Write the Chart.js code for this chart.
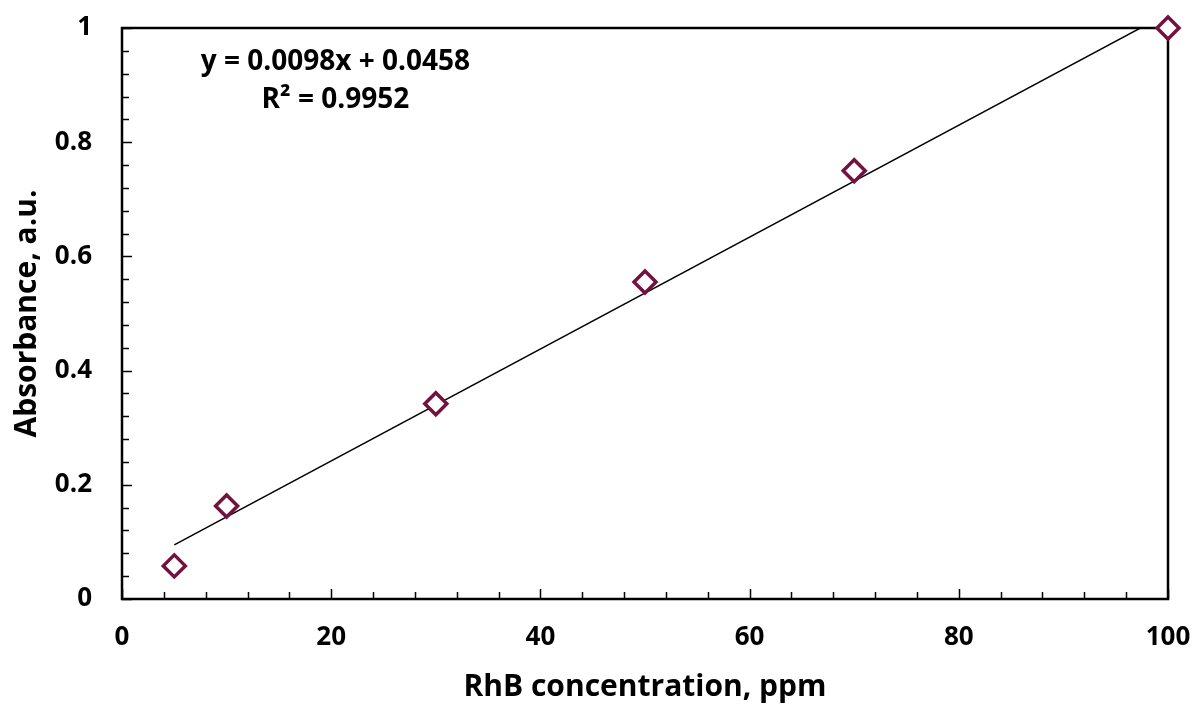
<!DOCTYPE html>
<html>
<head>
<meta charset="utf-8">
<script src="https://cdn.jsdelivr.net/npm/chart.js@4"></script>
<style>
  html, body { margin: 0; padding: 0; background: #fff; }
  #wrap { width: 1197px; height: 705px; }
</style>
</head>
<body>
<div id="wrap"><canvas id="myChart" width="1197" height="705"></canvas></div>
<script>
// measured points
const concentration = [5, 10, 30, 50, 70, 100];
const absorbance = [0.058, 0.163, 0.342, 0.555, 0.750, 1.0];

// linear trendline (ends)
const trendX = [5, 100];
const trendY = [0.0948, 1.0258];

const equationText = "y = 0.0098x + 0.0458";
const r2Text = "R² = 0.9952";

const FONT = "'Open Sans', 'Liberation Sans', sans-serif";

// frame + inside ticks + equation label, drawn under the markers
const framePlugin = {
  id: "frame",
  beforeDatasetsDraw(chart) {
    const ctx = chart.ctx;
    const a = chart.chartArea;
    const xs = chart.scales.x;
    const ys = chart.scales.y;
    ctx.save();
    ctx.strokeStyle = "#000";
    ctx.lineWidth = 1.5;
    for (let v = 0; v <= 100; v += 4) {
      const px = Math.round(xs.getPixelForValue(v)) + 0.5;
      const len = (v % 20 === 0) ? 10 : 7;
      ctx.beginPath();
      ctx.moveTo(px, a.bottom);
      ctx.lineTo(px, a.bottom - len);
      ctx.stroke();
    }
    for (let i = 0; i <= 25; i++) {
      const py = Math.round(ys.getPixelForValue(i * 0.04)) + 0.5;
      const len = (i % 5 === 0) ? 10 : 7;
      ctx.beginPath();
      ctx.moveTo(a.left, py);
      ctx.lineTo(a.left + len, py);
      ctx.stroke();
    }
    ctx.lineWidth = 2.5;
    ctx.strokeRect(a.left, a.top, a.right - a.left, a.bottom - a.top);

    ctx.fillStyle = "#000";
    ctx.font = "bold 28px " + FONT;
    ctx.textAlign = "center";
    ctx.textBaseline = "middle";
    const cx = xs.getPixelForValue(20.4);
    ctx.fillText(equationText, cx, ys.getPixelForValue(0.94));
    ctx.fillText(r2Text, cx, ys.getPixelForValue(0.874));
    ctx.restore();
  }
};

new Chart("myChart", {
  type: "scatter",
  data: {
    datasets: [{
      label: "Absorbance",
      data: concentration.map((x, i) => ({ x: x, y: absorbance[i] })),
      pointStyle: "rectRot",
      pointRadius: 11,
      pointHoverRadius: 11,
      pointBorderWidth: 3.5,
      borderColor: "#73123F",
      backgroundColor: "#ffffff",
      clip: false,
      order: 1
    }, {
      type: "line",
      label: "Linear fit",
      data: trendX.map((x, i) => ({ x: x, y: trendY[i] })),
      borderColor: "#000",
      borderWidth: 1.5,
      pointRadius: 0,
      fill: false,
      order: 2
    }]
  },
  options: {
    responsive: false,
    animation: false,
    layout: { padding: { top: 28, right: 29, left: 4, bottom: 0 } },
    plugins: {
      legend: { display: false },
      tooltip: { enabled: false }
    },
    scales: {
      x: {
        type: "linear",
        min: 0,
        max: 100,
        afterFit: s => { s.height = 106; s.paddingRight = 0; s.paddingLeft = 0; },
        grid: { display: false, drawTicks: false },
        border: { display: false },
        ticks: {
          stepSize: 20,
          padding: 23,
          maxRotation: 0,
          color: "#000",
          font: { family: FONT, size: 26, weight: "bold" }
        },
        title: {
          display: true,
          text: "RhB concentration, ppm",
          color: "#000",
          padding: { top: 0, bottom: 0 },
          font: { family: FONT, size: 30, weight: "bold" }
        }
      },
      y: {
        type: "linear",
        min: 0,
        max: 1,
        afterFit: s => { s.width = 118; s.paddingTop = 0; s.paddingBottom = 0; },
        grid: { display: false, drawTicks: false },
        border: { display: false },
        ticks: {
          stepSize: 0.2,
          padding: 30,
          color: "#000",
          font: { family: FONT, size: 26, weight: "bold" },
          callback: v => Number(v.toFixed(1)).toString()
        },
        title: {
          display: true,
          text: "Absorbance, a.u.",
          color: "#000",
          padding: { top: 5, bottom: 0 },
          font: { family: FONT, size: 30, weight: "bold" }
        }
      }
    }
  },
  plugins: [framePlugin]
});
</script>
</body>
</html>
